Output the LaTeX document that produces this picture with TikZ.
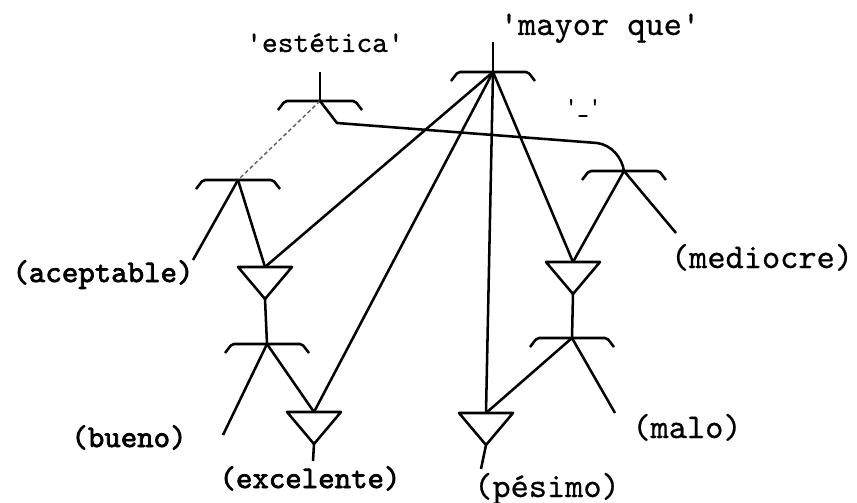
\documentclass[tikz,border=0pt]{standalone}
\usepackage{fontspec}
\newfontfamily\typew{lmmono10-regular.otf}[FakeBold=0.6]
\newfontfamily\typewb{lmmono10-regular.otf}[FakeBold=2.4]
\usetikzlibrary{calc}
\tikzset{
  lbl/.style={font=\typew\fontsize{26}{26}\selectfont,anchor=base,inner sep=0pt},
  blbl/.style={lbl,font=\typewb\fontsize{23.5}{23.5}\selectfont},
  relbar/.pic={
    \draw[rounded corners=1.5pt] (-42,9) -- (-35,0) -- (35,0) -- (42,9);
    \coordinate (-c) at (0,0);
  },
  downtri/.pic={
    \draw (-27,0) -- (27,0) -- (0,32) -- cycle;
    \coordinate (-top) at (0,0);
    \coordinate (-apex) at (0,32);
  },
  faint/.style={densely dashed,line width=1.1pt,black!60}
}

\begin{document}
\begin{tikzpicture}[x=.75pt,y=-.75pt,line width=1.9pt,line join=round]
    \useasboundingbox (0,0) rectangle (857,503);
    % relations and triangles
    \pic (r1) at (320,101) {relbar};
    \pic (r2) at (238,180) {relbar};
    \pic (r3) at (493,72) {relbar};
    \pic (r4) at (624,171) {relbar};
    \pic (r5) at (267,344) {relbar};
    \pic (r6) at (572,338) {relbar};
    \pic (t1) at (265,267) {downtri};
    \pic (t2) at (314,412) {downtri};
    \pic (t3) at (486,413) {downtri};
    \pic (t4) at (573,262) {downtri};
    % labels
    \node[lbl,font=\typew\fontsize{22.5}{22.5}\selectfont] (estetica) at (325,52) {'estética'};
    \node[lbl] (mayorque) at (600,35) {'mayor que'};
    \node[lbl,font=\typew\fontsize{17}{17}\selectfont] (guion) at (583,113) {'\_'};
    \node[lbl] (mediocre) at (762,268) {(mediocre)};
    \node[blbl] (aceptable) at (103,282) {(aceptable)};
    \node[blbl] (bueno) at (129,447) {(bueno)};
    \node[blbl] (excelente) at (310,488) {(excelente)};
    \node[lbl] (malo) at (687,438) {(malo)};
    \node[lbl] (pesimo) at (547,497) {(pésimo)};
    % free ends
    \coordinate (r1top) at (320,72);
    \coordinate (r3top) at (493,42);
    \coordinate (acepend) at (193,260);
    \coordinate (buenoend) at (223,435);
    \coordinate (medioend) at (676,233);
    \coordinate (maloend) at (615,413);
    \coordinate (t2end) at (313,461);
    \coordinate (t3end) at (481,469);
    \coordinate (k1) at (337,123);
    \coordinate (k2) at (597,143);
    % connectors
    \draw (r1top) -- (r1-c);
    \draw (r3top) -- (r3-c);
    \draw[faint] (r1-c) -- (r2-c);
    \draw (r1-c) -- (k1) -- (k2) .. controls (612,145) and (622,158) .. (r4-c);
    \draw (r2-c) -- (acepend);
    \draw (r2-c) -- (t1-top);
    \draw (r3-c) -- (t1-top);
    \draw (r3-c) -- (t2-top);
    \draw (r3-c) -- (t3-top);
    \draw (r3-c) -- (t4-top);
    \draw (r4-c) -- (t4-top);
    \draw (r4-c) -- (medioend);
    \draw (t1-apex) -- (r5-c);
    \draw (r5-c) -- (buenoend);
    \draw (r5-c) -- (t2-top);
    \draw (t2-apex) -- (t2end);
    \draw (t4-apex) -- (r6-c);
    \draw (r6-c) -- (t3-top);
    \draw (r6-c) -- (maloend);
    \draw (t3-apex) -- (t3end);
  \end{tikzpicture}
\end{document}
